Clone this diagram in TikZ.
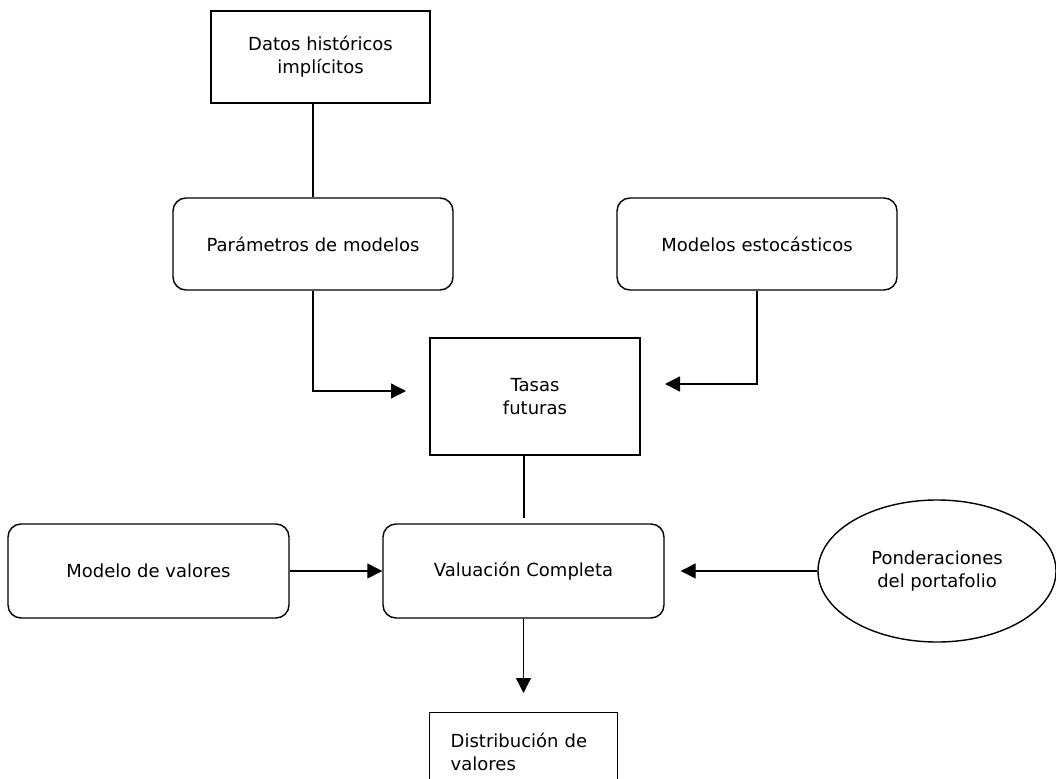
\documentclass[tikz,border=0pt]{standalone}
\usepackage{fontspec}
\setmainfont{DejaVu Sans}
\usepackage{tikz}
\usetikzlibrary{arrows.meta,shapes.geometric}
\tikzset{
  flowBox/.style={draw, line width=1.4pt, inner sep=0pt, align=center,
    font=\fontsize{18}{23}\selectfont},
  flowRound/.style={flowBox, rounded corners=13pt},
  flowEllipse/.style={flowBox, ellipse},
  flowLine/.style={line width=1.3pt},
  flowArrow/.style={flowLine, -{Triangle[length=15pt,width=15pt]}}
}
\begin{document}
\begin{tikzpicture}[x=1pt,y=-1pt]
  \useasboundingbox (0,0) rectangle (1056,778);
  \clip (0,0) rectangle (1056,778);

  \node[flowBox, minimum width=219pt, minimum height=92pt] (datos) at (320.5,57) {Datos históricos\\implícitos};
  \node[flowRound, minimum width=280pt, minimum height=92pt] (param) at (313,244) {Parámetros de modelos};
  \node[flowRound, minimum width=280pt, minimum height=92pt] (estoc) at (757,244) {Modelos estocásticos};
  \node[flowBox, minimum width=210pt, minimum height=117pt] (tasas) at (535,396.5) {Tasas\\futuras};
  \node[flowRound, minimum width=281pt, minimum height=94pt] (val) at (523.5,571) {Valuación Completa};
  \node[flowRound, minimum width=281pt, minimum height=94pt] (modval) at (148.5,571) {Modelo de valores};
  \node[flowEllipse, minimum width=238pt, minimum height=142pt] (ponder) at (937,571) {Ponderaciones\\del portafolio};
  \node[flowBox, align=left, anchor=north west, minimum width=188pt, minimum height=78pt, inner xsep=21pt, text width=146pt] (distrib) at (429,712) {Distribución de\\valores};

  \coordinate (tipA) at (406,391);
  \coordinate (tipB) at (665,384);

  \draw[flowLine] (datos.south -| param.north) -- (param.north);
  \draw[flowArrow] (param.south) |- (tipA);
  \draw[flowArrow] (estoc.south) |- (tipB);
  \draw[flowLine, shorten >=5pt] (tasas.south -| 524,0) -- (val.north -| 524,0);
  \draw[flowArrow] (modval.east) -- (val.west);
  \draw[flowArrow, shorten >=16pt] (ponder.west) -- (val.east);
  \draw[flowArrow, shorten >=19pt] (val.south) -- (distrib.north -| val.south);
\end{tikzpicture}
\end{document}
